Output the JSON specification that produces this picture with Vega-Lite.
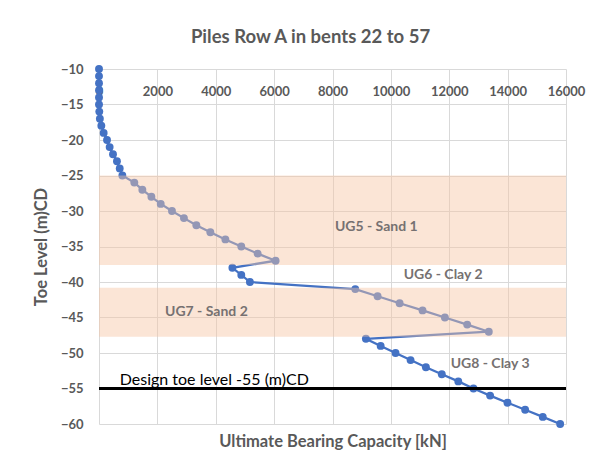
{
  "$schema": "https://vega.github.io/schema/vega-lite/v6.json",
  "width": 467,
  "height": 355,
  "autosize": {"type": "none"},
  "padding": {"left": 99, "top": 69, "right": 40, "bottom": 44},
  "background": "white",
  "title": {
    "text": "Piles Row A in bents 22 to 57",
    "font": "Lato",
    "fontSize": 18.5,
    "fontWeight": "bold",
    "color": "#595959",
    "anchor": "middle",
    "dx": -22,
    "offset": 17
  },
  "config": {
    "view": {"stroke": null},
    "axis": {"labelFont": "Lato", "titleFont": "Lato", "gridColor": "#D9D9D9", "gridWidth": 1},
    "axisY": {"domain": false, "ticks": false, "grid": true, "labelPadding": 16,
              "labelFontSize": 13, "labelFontWeight": "bold", "labelColor": "#595959",
              "labelOverlap": false, "titleFontSize": 16.5, "titleFontWeight": "bold",
              "titleColor": "#595959", "titlePadding": 11, "labelFlush": false}
  },
  "datasets": {
    "capacity": [
      {"level": -10, "cap": 0}, {"level": -11, "cap": 0}, {"level": -12, "cap": 0},
      {"level": -13, "cap": 0}, {"level": -14, "cap": 0}, {"level": -15, "cap": 0},
      {"level": -16, "cap": 10}, {"level": -17, "cap": 30}, {"level": -18, "cap": 80},
      {"level": -19, "cap": 160}, {"level": -20, "cap": 275}, {"level": -21, "cap": 365},
      {"level": -22, "cap": 480}, {"level": -23, "cap": 615}, {"level": -24, "cap": 710},
      {"level": -25, "cap": 800}, {"level": -26, "cap": 1210}, {"level": -27, "cap": 1485},
      {"level": -28, "cap": 1795}, {"level": -29, "cap": 2115}, {"level": -30, "cap": 2500},
      {"level": -31, "cap": 2910}, {"level": -32, "cap": 3335}, {"level": -33, "cap": 3815},
      {"level": -34, "cap": 4330}, {"level": -35, "cap": 4875}, {"level": -36, "cap": 5435},
      {"level": -37, "cap": 6050}, {"level": -38, "cap": 4570}, {"level": -39, "cap": 4875},
      {"level": -40, "cap": 5170}, {"level": -41, "cap": 8780}, {"level": -42, "cap": 9545},
      {"level": -43, "cap": 10300}, {"level": -44, "cap": 11085}, {"level": -45, "cap": 11850},
      {"level": -46, "cap": 12615}, {"level": -47, "cap": 13355}, {"level": -48, "cap": 9145},
      {"level": -49, "cap": 9650}, {"level": -50, "cap": 10160}, {"level": -51, "cap": 10675},
      {"level": -52, "cap": 11200}, {"level": -53, "cap": 11745}, {"level": -54, "cap": 12310},
      {"level": -55, "cap": 12830}, {"level": -56, "cap": 13400}, {"level": -57, "cap": 13995},
      {"level": -58, "cap": 14600}, {"level": -59, "cap": 15205}, {"level": -60, "cap": 15800}
    ],
    "bands": [
      {"cap": 0, "cap2": 16000, "level": -25, "level2": -37.6},
      {"cap": 0, "cap2": 16000, "level": -40.8, "level2": -47.7}
    ],
    "layers": [
      {"label": "UG5 - Sand 1", "cap": 9500, "level": -32.2},
      {"label": "UG6 - Clay 2", "cap": 11790, "level": -39.0},
      {"label": "UG7 - Sand 2", "cap": 3680, "level": -44.2},
      {"label": "UG8 - Clay 3", "cap": 13400, "level": -51.6}
    ],
    "design": [
      {"label": "Design toe level -55 (m)CD", "cap": 710, "level": -55, "textLevel": -53.8}
    ]
  },
  "layer": [
    {
      "data": {"name": "capacity"},
      "mark": {"type": "line", "color": "#4472C4", "strokeWidth": 2.25,
               "point": {"filled": true, "size": 62, "color": "#4472C4", "opacity": 1}},
      "encoding": {
        "x": {"field": "cap", "type": "quantitative",
              "scale": {"domain": [0, 16000], "nice": false, "zero": false},
              "axis": {"orient": "top", "values": [0, 2000, 4000, 6000, 8000, 10000, 12000, 14000, 16000],
                       "format": "d", "domain": false, "ticks": false, "grid": true,
                       "labelBaseline": "middle", "labelPadding": -22, "labelFontSize": 13,
                       "labelFontWeight": "bold", "labelColor": "#595959", "title": null,
                       "labelFlush": false, "labelOverlap": false}},
        "y": {"field": "level", "type": "quantitative",
              "scale": {"domain": [-60, -10], "nice": false, "zero": false},
              "axis": {"values": [-10, -15, -20, -25, -30, -35, -40, -45, -50, -55, -60], "title": "Toe Level (m)CD"}},
        "order": {"field": "level", "sort": "descending"}
      }
    },
    {
      "data": {"name": "bands"},
      "mark": {"type": "rect", "color": "#F6C5A4", "opacity": 0.45},
      "encoding": {
        "x": {"field": "cap", "type": "quantitative",
              "axis": {"orient": "bottom", "labels": false, "ticks": false, "domain": false, "grid": false,
                       "title": "Ultimate Bearing Capacity [kN]", "titleFontSize": 16.5,
                       "titleFontWeight": "bold", "titleColor": "#595959", "titlePadding": 9}},
        "x2": {"field": "cap2"},
        "y": {"field": "level", "type": "quantitative",
              "axis": {"values": [-10, -15, -20, -25, -30, -35, -40, -45, -50, -55, -60], "title": "Toe Level (m)CD"}},
        "y2": {"field": "level2"}
      }
    },
    {
      "data": {"name": "layers"},
      "mark": {"type": "text", "font": "Lato", "fontSize": 14, "fontWeight": "bold", "color": "#767171", "align": "center", "baseline": "middle"},
      "encoding": {
        "x": {"field": "cap", "type": "quantitative", "axis": null},
        "y": {"field": "level", "type": "quantitative",
              "axis": {"values": [-10, -15, -20, -25, -30, -35, -40, -45, -50, -55, -60], "title": "Toe Level (m)CD"}},
        "text": {"field": "label"}
      }
    },
    {
      "data": {"name": "design"},
      "mark": {"type": "rule", "color": "black", "strokeWidth": 3},
      "encoding": {
        "y": {"field": "level", "type": "quantitative",
              "axis": {"values": [-10, -15, -20, -25, -30, -35, -40, -45, -50, -55, -60], "title": "Toe Level (m)CD"}}
      }
    },
    {
      "data": {"name": "design"},
      "mark": {"type": "text", "font": "Lato", "fontSize": 16, "color": "black", "align": "left", "baseline": "middle"},
      "encoding": {
        "x": {"field": "cap", "type": "quantitative", "axis": null},
        "y": {"field": "textLevel", "type": "quantitative",
              "axis": {"values": [-10, -15, -20, -25, -30, -35, -40, -45, -50, -55, -60], "title": "Toe Level (m)CD"}},
        "text": {"field": "label"}
      }
    }
  ],
  "resolve": {"axis": {"x": "independent"}}
}
